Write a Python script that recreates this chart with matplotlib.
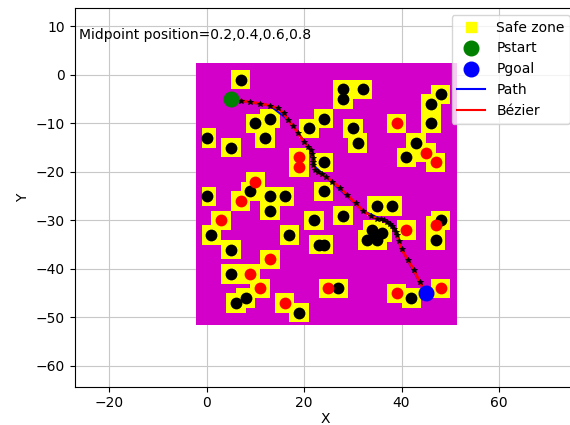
import matplotlib
matplotlib.use("Agg")
import matplotlib.pyplot as plt
from matplotlib.patches import Rectangle
from matplotlib.lines import Line2D

# ---- data ----
black_x = [7, 10, 13, 12, 0, 5, 21, 24, 28, 28, 32, 30, 31, 48, 46, 46, 43, 41, 24,
           0, 9, 13, 16, 13, 24, 1, 22, 17, 23, 24, 5, 5, 8, 6, 19, 35, 38, 28,
           34, 36, 33, 35, 34.5, 48, 47, 27, 42]
black_y = [-1, -10, -9, -13, -13, -15, -11, -9, -3, -5, -3, -11, -14, -4, -6, -10, -14, -17, -18,
           -25, -24, -25, -25, -28, -24, -33, -30, -33, -35, -35, -36, -41, -46, -47, -49, -27, -27, -29,
           -32, -32.5, -34, -34, -33, -30, -34, -44, -46]
red_x = [19, 19, 39, 45, 47, 10, 7, 3, 13, 9, 11, 16, 25, 41, 47, 39, 48]
red_y = [-17, -19, -10, -16, -18, -22, -26, -30, -38, -41, -44, -47, -44, -32, -31, -45, -44]

start = (5, -5)
goal = (45, -45)

path_x = [5, 13, 16.8, 21.4, 21.9, 24.5, 32.1, 36.4, 38.5, 40.0, 45]
path_y = [-5, -6.3, -9.3, -15.5, -18.6, -21.0, -28.0, -30.0, -31.7, -35.9, -45]

bez_x = [5.0, 7.0, 9.0, 11.0, 13.0, 14.6, 15.8, 16.8, 17.7, 18.8, 20.0, 20.9, 21.4, 21.6,
         21.8, 21.9, 21.9, 22.2, 22.8, 23.6, 24.5, 25.8, 27.4, 28.9, 30.6, 32.1, 33.7, 34.9,
         35.7, 36.4, 37.1, 37.6, 38.1, 38.5, 38.8, 39.0, 39.5, 40.0, 41.3, 42.6, 43.7, 45.0]
bez_y = [-5.0, -5.3, -5.6, -5.9, -6.3, -6.9, -7.9, -9.3, -10.5, -12.0, -13.8, -14.8, -15.5, -16.4,
         -17.2, -17.9, -18.6, -19.5, -20.1, -20.5, -21.0, -22.0, -23.3, -24.8, -26.5, -28.0, -29.1, -29.6,
         -29.8, -30.0, -30.4, -30.7, -31.1, -31.7, -32.3, -33.0, -34.3, -35.9, -38.1, -40.3, -42.6, -45.0]

map_x0, map_x1 = -2.2, 51.3
map_y0, map_y1 = -51.6, 2.5
safe_half = 2.0
safe_xmin = -1.0
title_text = "Midpoint position=0.2,0.4,0.6,0.8"

# ---- figure ----
fig = plt.figure(figsize=(5.7, 4.25), dpi=100)
ax = fig.add_axes([74.5 / 570, (425 - 386.7) / 425, 502.5 / 570, (386.7 - 8) / 425])
ax.set_axisbelow(True)
ax.grid(True, color='#c8c8c8', linewidth=0.8)

ax.add_patch(Rectangle((map_x0, map_y0), map_x1 - map_x0, map_y1 - map_y0,
                       facecolor='#d200c8', edgecolor='none', zorder=1))
for x, y in list(zip(black_x, black_y)) + list(zip(red_x, red_y)):
    x0 = max(x - safe_half, safe_xmin)
    x1 = x + safe_half
    ax.add_patch(Rectangle((x0, y - safe_half), x1 - x0, 2 * safe_half,
                           facecolor='yellow', edgecolor='none', zorder=2))

ax.plot(black_x, black_y, 'o', color='black', ms=8.5, mew=0, zorder=3)
ax.plot(red_x, red_y, 'o', color='red', ms=8.5, mew=0, zorder=3)

ax.plot(path_x, path_y, '-', color='blue', lw=1.5, zorder=4)
ax.plot(bez_x, bez_y, '-', color='red', lw=2.0, zorder=5)
ax.plot(bez_x, bez_y, '*', color='black', ms=4, mew=0.6, zorder=6)

ax.plot([start[0]], [start[1]], 'o', color='green', ms=10.5, zorder=7)
ax.plot([goal[0]], [goal[1]], 'o', color='blue', ms=10.5, zorder=7)

ax.text(-26.2, 8.2, title_text, fontsize=10, va='center', ha='left')

ax.set_xlim(-27.08, 76)
ax.set_ylim(-64.27, 13.8)
ax.set_xticks([-20, 0, 20, 40, 60])
ax.set_yticks([-60, -50, -40, -30, -20, -10, 0, 10])
ax.set_xlabel('X', labelpad=1)
ax.set_ylabel('Y')

handles = [
    Line2D([], [], marker='s', color='yellow', linestyle='none', ms=6.5),
    Line2D([], [], marker='o', color='green', linestyle='none', ms=10.5),
    Line2D([], [], marker='o', color='blue', linestyle='none', ms=10.5),
    Line2D([], [], color='blue', lw=1.5),
    Line2D([], [], color='red', lw=1.5),
]
ax.legend(handles, ['Safe zone', 'Pstart', 'Pgoal', 'Path', 'Bézier'], loc='upper right')

fig.savefig('out.png', dpi=100)
